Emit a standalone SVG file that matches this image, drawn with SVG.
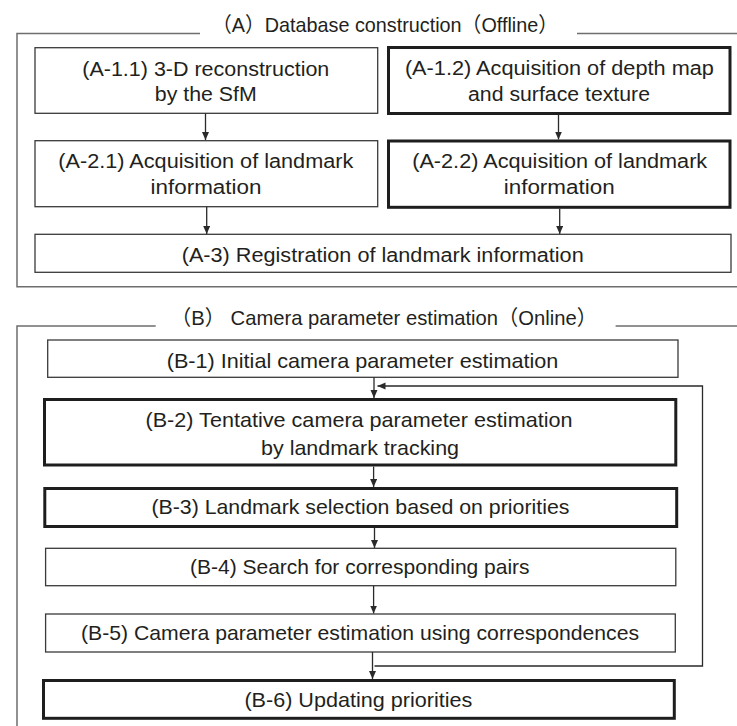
<svg xmlns="http://www.w3.org/2000/svg" width="737" height="726" viewBox="0 0 737 726">
<style>
.frame{fill:none;stroke:#6e6e6e;stroke-width:1.5}
.thin{fill:#fff;stroke:#3a3a3a;stroke-width:1.3}
.thick{fill:#fff;stroke:#1e1e1e;stroke-width:3}
.t{font-family:"Liberation Sans","Noto Sans CJK JP",sans-serif;fill:#231f20;text-anchor:middle}
.a{font-size:19.5px}
.b{font-size:21px}
.ttl{font-family:"Liberation Sans","Noto Sans CJK JP",sans-serif;fill:#231f20;font-size:21px}
.con{fill:none;stroke:#2a2a2a;stroke-width:1.3}
</style>
<defs>
<marker id="ah" markerUnits="userSpaceOnUse" markerWidth="9" markerHeight="8" refX="8" refY="3.5" orient="auto">
<path d="M0,0 L8,3.5 L0,7 z" fill="#2a2a2a"/>
</marker>
</defs>
<rect width="737" height="726" fill="#fff"/>
<g id="frameA">
<path class="frame" d="M200,33.5 H17 V286.7 H740 M577,33.5 H740"/>
<text class="ttl" x="212" y="32" textLength="346" lengthAdjust="spacingAndGlyphs">（A）Database construction（Offline）</text>
</g>
<g id="frameB">
<path class="frame" d="M155.7,326 H17 V730 M615.6,326 H740"/>
<text class="ttl" x="171" y="325" textLength="426" lengthAdjust="spacingAndGlyphs">（B） Camera parameter estimation（Online）</text>
</g>
<g id="A11">
<rect class="thin" x="35" y="47.7" width="342.7" height="65.6"/>
<text class="t a" x="205.8" y="75.5" textLength="247" lengthAdjust="spacingAndGlyphs">(A-1.1) 3-D reconstruction</text>
<text class="t a" x="205.8" y="100.5" textLength="102" lengthAdjust="spacingAndGlyphs">by the SfM</text>
</g>
<g id="A12">
<rect class="thick" x="388.5" y="47.5" width="341.5" height="66"/>
<text class="t a" x="559.4" y="74.5" textLength="309" lengthAdjust="spacingAndGlyphs">(A-1.2) Acquisition of depth map</text>
<text class="t a" x="559" y="100.5" textLength="182" lengthAdjust="spacingAndGlyphs">and surface texture</text>
</g>
<g id="A21">
<rect class="thin" x="35" y="140.7" width="342.7" height="66"/>
<text class="t a" x="205.8" y="167.5" textLength="295" lengthAdjust="spacingAndGlyphs">(A-2.1) Acquisition of landmark</text>
<text class="t a" x="206" y="193.5" textLength="111" lengthAdjust="spacingAndGlyphs">information</text>
</g>
<g id="A22">
<rect class="thick" x="388.5" y="141" width="341.5" height="66.3"/>
<text class="t a" x="559.7" y="167.5" textLength="295" lengthAdjust="spacingAndGlyphs">(A-2.2) Acquisition of landmark</text>
<text class="t a" x="559.2" y="193.5" textLength="111" lengthAdjust="spacingAndGlyphs">information</text>
</g>
<g id="A3">
<rect class="thin" x="35" y="234.3" width="696" height="38"/>
<text class="t a" x="382.7" y="261.7" textLength="402" lengthAdjust="spacingAndGlyphs">(A-3) Registration of landmark information</text>
</g>
<g id="B1">
<rect class="thin" x="47.7" y="340" width="630.3" height="37.3"/>
<text class="t b" x="362.5" y="368" textLength="391.5" lengthAdjust="spacingAndGlyphs">(B-1) Initial camera parameter estimation</text>
</g>
<g id="B2">
<rect class="thick" x="44.5" y="399.5" width="631.3" height="65.5"/>
<text class="t b" x="359" y="426.7" textLength="427" lengthAdjust="spacingAndGlyphs">(B-2) Tentative camera parameter estimation</text>
<text class="t b" x="360" y="455" textLength="198" lengthAdjust="spacingAndGlyphs">by landmark tracking</text>
</g>
<g id="B3">
<rect class="thick" x="44.8" y="488.5" width="631.9" height="38"/>
<text class="t b" x="360.4" y="514" textLength="418" lengthAdjust="spacingAndGlyphs">(B-3) Landmark selection based on priorities</text>
</g>
<g id="B4">
<rect class="thin" x="45.6" y="548.3" width="630.2" height="37.4"/>
<text class="t b" x="359.8" y="574" textLength="339.6" lengthAdjust="spacingAndGlyphs">(B-4) Search for corresponding pairs</text>
</g>
<g id="B5">
<rect class="thin" x="45.6" y="614" width="629.7" height="38"/>
<text class="t b" x="360" y="640" textLength="558" lengthAdjust="spacingAndGlyphs">(B-5) Camera parameter estimation using correspondences</text>
</g>
<g id="B6">
<rect class="thick" x="43.5" y="680.5" width="630.8" height="37.8"/>
<text class="t b" x="358.4" y="706.7" textLength="228" lengthAdjust="spacingAndGlyphs">(B-6) Updating priorities</text>
</g>
<g id="connectors">
<path class="con" marker-end="url(#ah)" d="M205.5,113.3 V140"/>
<path class="con" marker-end="url(#ah)" d="M558.5,115 V139.5"/>
<path class="con" marker-end="url(#ah)" d="M206.7,206.7 V234"/>
<path class="con" marker-end="url(#ah)" d="M559.7,208.8 V234"/>
<path class="con" marker-end="url(#ah)" d="M374,377.3 V398"/>
<path class="con" marker-end="url(#ah)" d="M374.5,666 H702.5 V386 H377.5"/>
<path class="con" marker-end="url(#ah)" d="M373.6,466.5 V487"/>
<path class="con" marker-end="url(#ah)" d="M374.5,528 V548"/>
<path class="con" marker-end="url(#ah)" d="M373.6,585.7 V613.5"/>
<path class="con" marker-end="url(#ah)" d="M372.5,652 V679"/>
</g>
</svg>
